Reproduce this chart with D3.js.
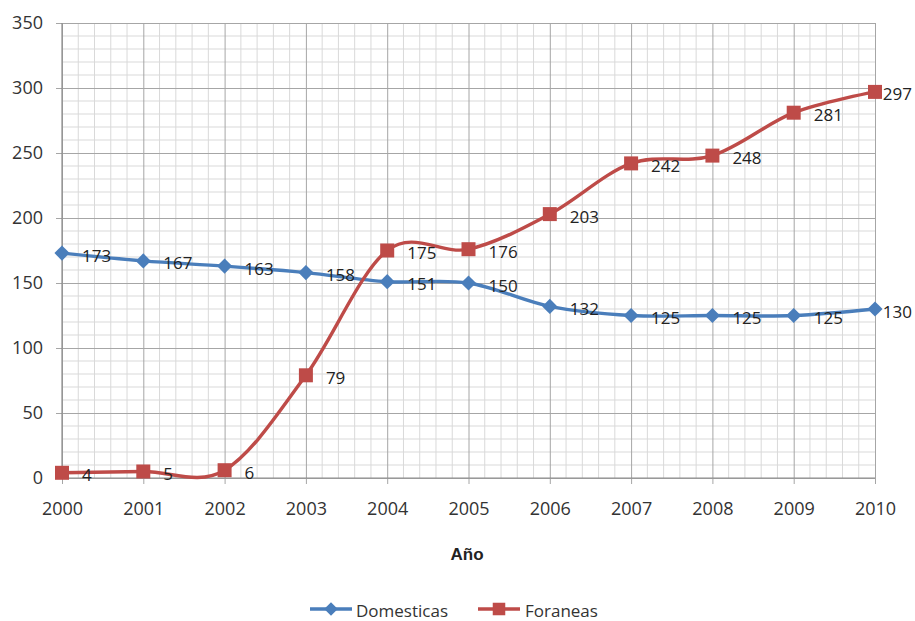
<!DOCTYPE html>
<html>
<head>
<meta charset="utf-8">
<script src="https://cdn.jsdelivr.net/npm/d3@7"></script>
<style>
  html, body { margin: 0; padding: 0; background: #fff; }
  svg { display: block; font-family: "Open Sans", "Liberation Sans", sans-serif; }
</style>
</head>
<body>
<svg id="chart" width="915" height="621"></svg>
<script>
// Yearly counts per category
const years = [2000, 2001, 2002, 2003, 2004, 2005, 2006, 2007, 2008, 2009, 2010];
const domesticas = [173, 167, 163, 158, 151, 150, 132, 125, 125, 125, 130];
const foraneas = [4, 5, 6, 79, 175, 176, 203, 242, 248, 281, 297];
const yTicks = [0, 50, 100, 150, 200, 250, 300, 350];
const seriesNames = ["Domesticas", "Foraneas"];
const xTitle = "Año";

const W = 915, H = 621;
const margin = { left: 62, right: 40, top: 23, bottom: 143 };
const svg = d3.select("#chart");

const x = d3.scaleLinear().domain([2000, 2010]).range([margin.left, W - margin.right]);
const y = d3.scaleLinear().domain([0, 350]).range([H - margin.bottom, margin.top]);

const minorColor = "#d9d9d9", majorColor = "#a6a6a6";
const grid = svg.append("g");

// minor grid: every 0.2 year and every 10 units
const xMinor = d3.range(0, 51).map(i => 2000 + i * 0.2).filter((v, i) => i % 5 !== 0);
const yMinor = d3.range(0, 36).map(i => i * 10).filter(v => v % 50 !== 0);
grid.selectAll(".vx").data(xMinor).join("line")
  .attr("x1", d => x(d)).attr("x2", d => x(d))
  .attr("y1", y(0)).attr("y2", y(350))
  .attr("stroke", minorColor).attr("stroke-width", 1);
grid.selectAll(".hy").data(yMinor).join("line")
  .attr("x1", x(2000)).attr("x2", x(2010))
  .attr("y1", d => y(d)).attr("y2", d => y(d))
  .attr("stroke", minorColor).attr("stroke-width", 1);

// major grid lines at each year and each labelled tick
const yAxis = d3.axisLeft(y).tickValues(yTicks).tickSize(-(x(2010) - x(2000))).tickSizeOuter(0).tickPadding(19);
const xAxis = d3.axisBottom(x).tickValues(years).tickFormat(d3.format("d"))
  .tickSize(-(y(0) - y(350))).tickSizeOuter(0).tickPadding(24);

const gy = svg.append("g").attr("transform", `translate(${x(2000)},0)`).call(yAxis);
gy.select(".domain").remove();
gy.selectAll(".tick line").attr("stroke", majorColor).attr("x1", -6);
gy.selectAll(".tick text").attr("fill", "#333").style("font-size", "18px")
  .attr("font-family", "Open Sans, sans-serif");

const gx = svg.append("g").attr("transform", `translate(0,${y(0)})`).call(xAxis);
gx.select(".domain").remove();
gx.selectAll(".tick line").attr("stroke", majorColor).attr("y1", 6);
gx.selectAll(".tick text").attr("fill", "#333").style("font-size", "18px")
  .attr("font-family", "Open Sans, sans-serif");

// axis lines
svg.append("line").attr("x1", x(2000)).attr("x2", x(2000)).attr("y1", y(0)).attr("y2", y(350))
  .attr("stroke", "#8c8c8c").attr("stroke-width", 1.2);
svg.append("line").attr("x1", x(2000)).attr("x2", x(2010)).attr("y1", y(0)).attr("y2", y(0))
  .attr("stroke", "#8c8c8c").attr("stroke-width", 1.2);

// axis title
svg.append("text").attr("x", 467).attr("y", 554).attr("text-anchor", "middle")
  .attr("dominant-baseline", "central")
  .style("font-family", "Liberation Sans, Arial, sans-serif")
  .style("font-size", "17px").style("font-weight", "bold").attr("fill", "#222")
  .text(xTitle);

// square rotated by 45 degrees gives the diamond marker
const diamond = {
  draw(ctx, size) {
    const r = Math.sqrt(size / 2);
    ctx.moveTo(0, -r); ctx.lineTo(r, 0); ctx.lineTo(0, r); ctx.lineTo(-r, 0); ctx.closePath();
  }
};

const series = [
  { name: seriesNames[0], values: domesticas, color: "#4a7ebb", marker: diamond, size: 115 },
  { name: seriesNames[1], values: foraneas, color: "#be4b48", marker: d3.symbolSquare, size: 196 }
];

const line = d3.line().x((d, i) => x(years[i])).y(d => y(d)).curve(d3.curveCardinal.tension(0));

series.forEach(s => {
  const g = svg.append("g");
  g.append("path").attr("d", line(s.values)).attr("fill", "none")
    .attr("stroke", s.color).attr("stroke-width", 3.4).attr("stroke-linejoin", "round");
  g.selectAll("path.m").data(s.values).join("path").attr("class", "m")
    .attr("transform", (d, i) => `translate(${x(years[i])},${y(d)})`)
    .attr("d", d3.symbol().type(s.marker).size(s.size)).attr("fill", s.color);
});

// data labels to the right of each point, kept inside the canvas
series.forEach(s => {
  const g = svg.append("g");
  g.selectAll("text").data(s.values).join("text")
    .attr("y", d => y(d) + 2)
    .attr("dominant-baseline", "central")
    .style("font-size", "17px").attr("fill", "#222")
    .text(d => d)
    .each(function (d, i) {
      const w = this.getComputedTextLength();
      const px = Math.min(x(years[i]) + 20, W - 3 - w);
      d3.select(this).attr("x", px);
    });
});

// legend
const legend = svg.append("g");
const legendItems = [
  { s: series[0], lx: 310, tx: 356 },
  { s: series[1], lx: 478, tx: 525 }
];
legendItems.forEach(it => {
  legend.append("line").attr("x1", it.lx).attr("x2", it.lx + 42).attr("y1", 609).attr("y2", 609)
    .attr("stroke", it.s.color).attr("stroke-width", 3.4);
  legend.append("path").attr("transform", `translate(${it.lx + 21},609)`)
    .attr("d", d3.symbol().type(it.s.marker).size(it.s.size * 0.8)).attr("fill", it.s.color);
  legend.append("text").attr("x", it.tx).attr("y", 610).attr("dominant-baseline", "central")
    .style("font-size", "17px").attr("fill", "#333").text(it.s.name);
});
</script>
</body>
</html>
